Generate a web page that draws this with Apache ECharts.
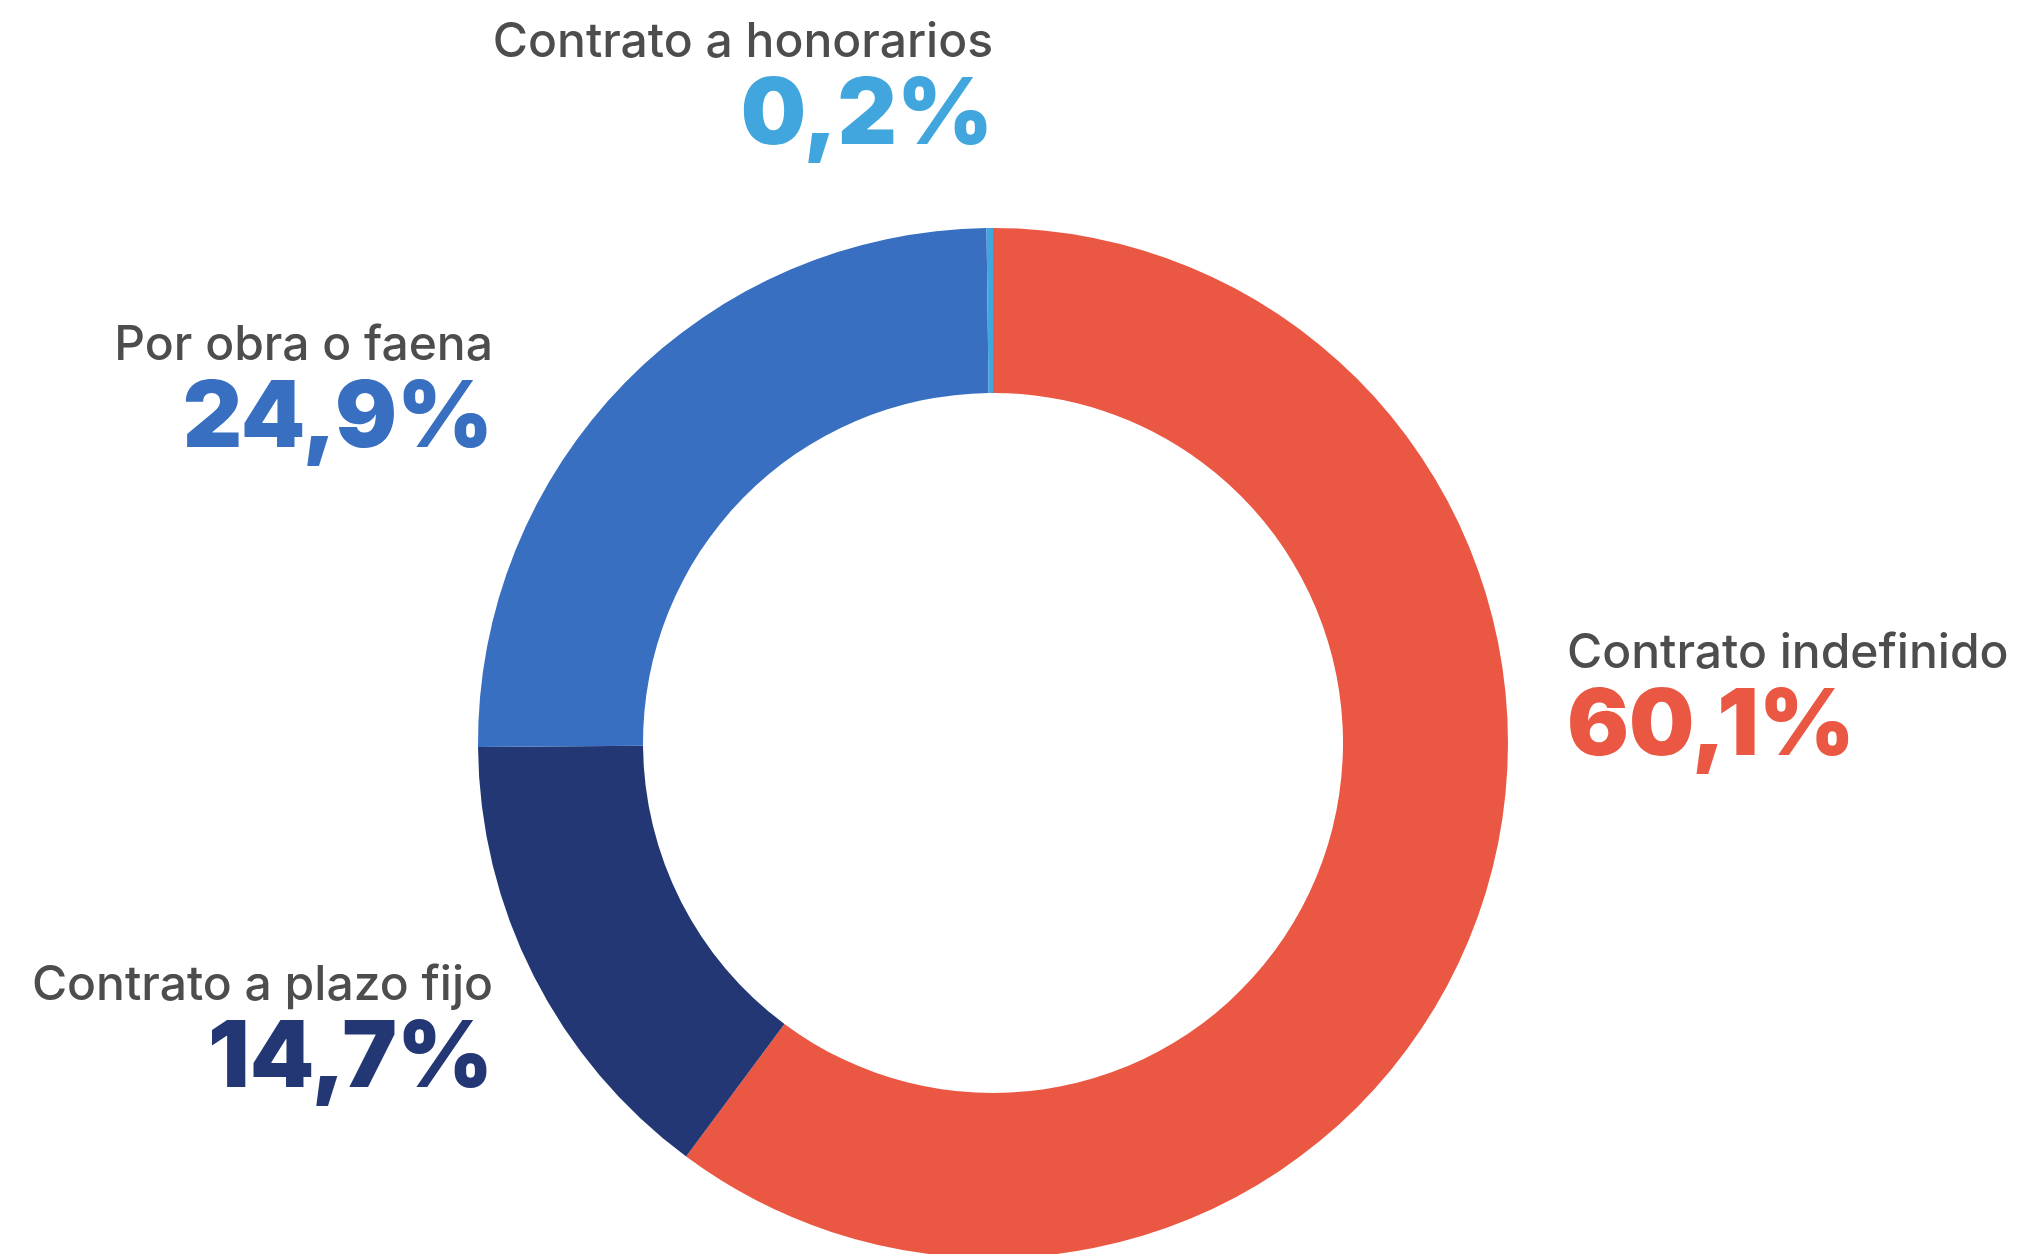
<!DOCTYPE html>
<html><head><meta charset="utf-8">
<script src="https://cdn.jsdelivr.net/npm/echarts@6/dist/echarts.min.js"></script>
<style>html,body{margin:0;padding:0;background:#fff}#c{width:2019px;height:1254px}</style>
</head><body><div id="c"></div>
<script>
const categories = ['Contrato indefinido', 'Contrato a plazo fijo', 'Por obra o faena', 'Contrato a honorarios'];
const shares = [60.1, 14.7, 24.9, 0.2];
const colors = ['#EA5844', '#233775', '#386FC0', '#41A6DE'];

// layout (style) settings
const CX = 993, CY = 743;
const labelAnchors = [[574, -114, 'left'], [-500, 218, 'right'], [-500, -422, 'right'], [0, -725, 'right']];

const fmt = v => v.toFixed(1).replace('.', ',') + '%';
const rich = { n: { fontFamily: 'Inter', fontWeight: 500, fontSize: 48, color: '#4D4D4D', lineHeight: 50 } };
colors.forEach((c, i) => {
  rich['p' + i] = { fontFamily: 'Inter', fontWeight: 900, fontSize: 92, color: c, lineHeight: 96 };
});

const chart = echarts.init(document.getElementById('c'), null, { renderer: 'canvas' });
chart.setOption({
  backgroundColor: '#ffffff',
  animation: false,
  series: [{
    type: 'pie',
    center: [CX, CY],
    radius: [350, 515],
    startAngle: 90,
    clockwise: true,
    avoidLabelOverlap: false,
    silent: true,
    itemStyle: { borderWidth: 0 },
    label: {
      show: true,
      position: 'outside',
      formatter: p => '{n|' + p.name + '}\n{p' + p.dataIndex + '|' + fmt(p.value) + '}',
      rich: rich
    },
    labelLine: { show: false },
    labelLayout: p => {
      const a = labelAnchors[p.dataIndex];
      return { x: CX + a[0], y: CY + a[1], align: a[2], verticalAlign: 'top' };
    },
    data: categories.map((name, i) => ({ name: name, value: shares[i], itemStyle: { color: colors[i] } }))
  }]
});
</script>
</body></html>
